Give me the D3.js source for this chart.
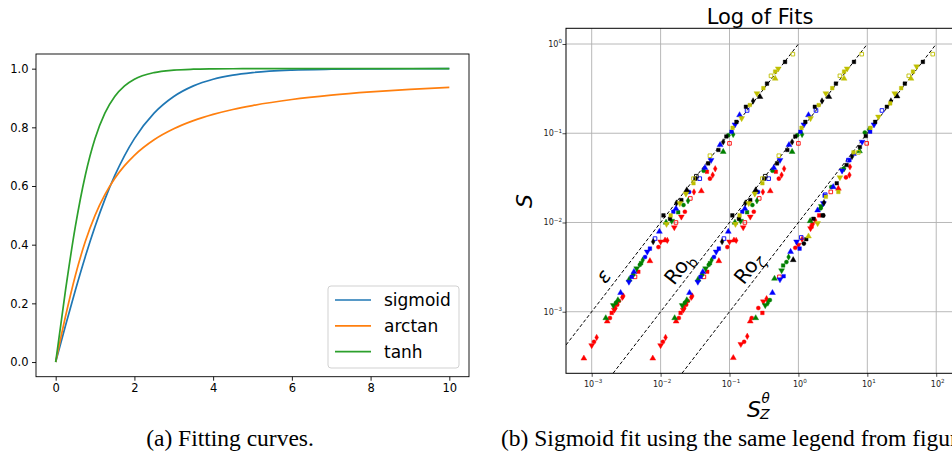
<!DOCTYPE html>
<html><head><meta charset="utf-8">
<script src="https://cdn.jsdelivr.net/npm/d3@7"></script>
<style>body{margin:0;background:#fff}svg{display:block}</style>
</head><body>
<svg id="chart" width="952" height="466"></svg>
<script>
// ---------- Panel (a) data ----------
const curveX   = [0,0.25,0.5,0.75,1,1.25,1.5,1.75,2,2.5,3,3.5,4,4.5,5,6,7,8,9,10];
const sigmoidY = [0,0.1244,0.2449,0.3584,0.4621,0.5546,0.6351,0.7039,0.7616,0.8483,0.9051,0.9414,0.9640,0.9780,0.9866,0.9951,0.9982,0.9993,0.9998,0.9999];
const arctanY  = [0,0.1560,0.2952,0.4097,0.5,0.5705,0.6257,0.6695,0.7048,0.7578,0.7952,0.8228,0.8440,0.8608,0.8743,0.8949,0.9097,0.9208,0.9295,0.9365];
const tanhY    = [0,0.2449,0.4621,0.6351,0.7616,0.8483,0.9051,0.9414,0.9640,0.9866,0.9951,0.9982,0.9993,0.9998,0.9999,1,1,1,1,1];
const curveNames = ["sigmoid","arctan","tanh"];
const xTicksA = [0,2,4,6,8,10];
const yTicksA = [0,0.2,0.4,0.6,0.8,1.0];

// ---------- Panel (b) data: [S_Z^theta, S, run] ----------
const epsRed = [[7.7e-4,3.0e-4,0],[1.0e-3,4.2e-4,1],[1.08e-3,4.6e-4,3],[1.18e-3,5.15e-4,4],
 [1.68e-3,7.8e-4,0],[1.84e-3,8.5e-4,3],[1.95e-3,9.7e-4,2],[2.13e-3,1.05e-3,1],[2.2e-3,1.1e-3,4],[2.35e-3,1.2e-3,3],[2.49e-3,1.32e-3,3],[2.78e-3,1.45e-3,4],[2.88e-3,1.5e-3,4],
 [4.25e-3,2.46e-3,5],[4.75e-3,2.8e-3,2],[7.0e-3,3.7e-3,0],[9.3e-3,5.3e-3,3],[1.0e-2,6.1e-3,1],[1.16e-2,6.3e-3,0],[1.25e-2,6.3e-3,4],
 [1.58e-2,8.8e-3,1],[1.67e-2,1.0e-2,5],[2.0e-2,1.16e-2,1],[2.25e-2,1.32e-2,3],[2.7e-2,1.86e-2,5],[3.05e-2,2.2e-2,4],[3.9e-2,2.25e-2,0],[4.7e-2,3.7e-2,2],[5.2e-2,3.1e-2,3],[5.7e-2,3.4e-2,4],[6.2e-2,4.0e-2,4],[1.0e-1,7.7e-2,5]];
const epsGreen = [[1.6e-3,8.5e-4,0],[2.06e-3,1.18e-3,1],[2.25e-3,1.26e-3,3],[2.4e-3,1.35e-3,0],
 [3.5e-3,2.3e-3,0],[4.0e-3,2.6e-3,3],[4.5e-3,3.05e-3,1],[5.0e-3,3.35e-3,3],[5.2e-3,3.5e-3,2],[5.5e-3,3.79e-3,4],
 [1.2e-2,1.0e-2,0],[1.45e-2,1.04e-2,1],[1.8e-2,1.3e-2,2],[2.15e-2,1.57e-2,3],[2.5e-2,1.75e-2,4],[4.2e-2,3.8e-2,3],[8.1e-2,6.2e-2,0],[9.6e-2,9.5e-2,3],[1.13e-1,9.7e-2,4]];
const epsBlue = [[2.63e-3,1.63e-3,0],[3.47e-3,2.16e-3,1],[3.8e-3,2.46e-3,2],[4.1e-3,2.8e-3,0],[5.95e-3,4.1e-3,3],[6.4e-3,4.7e-3,1],[7.0e-3,5.1e-3,2],[8.3e-3,6.6e-3,5],[9.6e-3,7.9e-3,0],
 [1.53e-2,1.32e-2,2],[1.67e-2,1.43e-2,0],[2.6e-2,2.2e-2,3],[3.7e-2,3.1e-2,5],[4.4e-2,4.1e-2,0],[5.4e-2,5.0e-2,1],[7.3e-2,7.4e-2,0],[1.07e-1,1.04e-1,2],[1.2e-1,1.25e-1,1],[1.4e-1,1.6e-1,0],[1.8e-1,1.8e-1,5]];
const epsBlack = [[7.8e-3,6.1e-3,4],[1.1e-2,1.2e-2,2],[1.37e-2,1.1e-2,2],[1.7e-2,1.65e-2,4],[2.0e-2,1.78e-2,2],[2.4e-2,2.3e-2,0],[3.2e-2,3.1e-2,2],[3.3e-2,3.3e-2,5],[4.9e-2,4.6e-2,2],[6.9e-2,6.5e-2,2],[8.1e-2,8.0e-2,4],[9.0e-2,9.2e-2,2],[1.26e-1,1.34e-1,2],[1.73e-1,1.98e-1,2],[2.2e-1,2.3e-1,4],[2.77e-1,2.56e-1,0],[3.5e-1,3.6e-1,2],[6.4e-1,6.3e-1,2]];
const epsYellow = [[1.22e-2,9.6e-3,1],[1.4e-2,1.2e-2,2],[1.9e-2,1.64e-2,1],[2.33e-2,2.1e-2,1],[3.0e-2,2.75e-2,2],[3.0e-2,3.1e-2,5],[5.2e-2,5.6e-2,5],[1.11e-1,1.15e-1,2],[1.5e-1,1.47e-1,1],[1.97e-1,2.07e-1,2],[2.5e-1,2.8e-1,1],[3.1e-1,3.2e-1,2],[4.0e-1,4.4e-1,5],[4.6e-1,4.1e-1,0],[4.6e-1,4.9e-1,2],[5.1e-1,5.3e-1,1],[8.3e-1,7.7e-1,5]];

const robRed = [[7.7e-3,3.0e-4,0],[1.0e-2,4.2e-4,1],[1.08e-2,4.6e-4,3],[1.18e-2,5.15e-4,4],
 [1.68e-2,7.8e-4,0],[1.84e-2,8.5e-4,3],[1.95e-2,9.7e-4,2],[2.13e-2,1.05e-3,1],[2.2e-2,1.1e-3,4],[2.35e-2,1.2e-3,3],[2.49e-2,1.32e-3,3],[2.78e-2,1.45e-3,4],[2.88e-2,1.5e-3,4],
 [4.25e-2,2.46e-3,5],[4.75e-2,2.8e-3,2],[7.0e-2,3.7e-3,0],[9.3e-2,5.3e-3,3],[1.0e-1,6.1e-3,1],[1.16e-1,6.3e-3,0],[1.25e-1,6.3e-3,4],
 [1.58e-1,8.8e-3,1],[1.67e-1,1.0e-2,5],[2.0e-1,1.16e-2,1],[2.25e-1,1.32e-2,3],[2.7e-1,1.86e-2,5],[3.05e-1,2.2e-2,4],[3.9e-1,2.25e-2,0],[4.7e-1,3.7e-2,2],[5.2e-1,3.1e-2,3],[5.7e-1,3.4e-2,4],[6.2e-1,4.0e-2,4],[1.0,7.7e-2,5]];
const robGreen = [[1.6e-2,8.5e-4,0],[2.06e-2,1.18e-3,1],[2.25e-2,1.26e-3,3],[2.4e-2,1.35e-3,0],
 [3.5e-2,2.3e-3,0],[4.0e-2,2.6e-3,3],[4.5e-2,3.05e-3,1],[5.0e-2,3.35e-3,3],[5.2e-2,3.5e-3,2],[5.5e-2,3.79e-3,4],
 [1.2e-1,1.0e-2,0],[1.45e-1,1.04e-2,1],[1.8e-1,1.3e-2,2],[2.15e-1,1.57e-2,3],[2.5e-1,1.75e-2,4],[4.2e-1,3.8e-2,3],[8.1e-1,6.2e-2,0],[9.6e-1,9.5e-2,3],[1.13,9.7e-2,4]];
const robBlue = [[2.63e-2,1.63e-3,0],[3.47e-2,2.16e-3,1],[3.8e-2,2.46e-3,2],[4.1e-2,2.8e-3,0],[5.95e-2,4.1e-3,3],[6.4e-2,4.7e-3,1],[7.0e-2,5.1e-3,2],[8.3e-2,6.6e-3,5],[9.6e-2,7.9e-3,0],
 [1.53e-1,1.32e-2,2],[1.67e-1,1.43e-2,0],[2.6e-1,2.2e-2,3],[3.7e-1,3.1e-2,5],[4.4e-1,4.1e-2,0],[5.4e-1,5.0e-2,1],[7.3e-1,7.4e-2,0],[1.07,1.04e-1,2],[1.2,1.25e-1,1],[1.4,1.6e-1,0],[1.8,1.8e-1,5]];
const robBlack = [[7.8e-2,6.1e-3,4],[1.1e-1,1.2e-2,2],[1.37e-1,1.1e-2,2],[1.7e-1,1.65e-2,4],[2.0e-1,1.78e-2,2],[2.4e-1,2.3e-2,0],[3.2e-1,3.1e-2,2],[3.3e-1,3.3e-2,5],[4.9e-1,4.6e-2,2],[6.9e-1,6.5e-2,2],[8.1e-1,8.0e-2,4],[9.0e-1,9.2e-2,2],[1.26,1.34e-1,2],[1.73,1.98e-1,2],[2.2,2.3e-1,4],[2.77,2.56e-1,0],[3.5,3.6e-1,2],[6.4,6.3e-1,2]];
const robYellow = [[1.22e-1,9.6e-3,1],[1.4e-1,1.2e-2,2],[1.9e-1,1.64e-2,1],[2.33e-1,2.1e-2,1],[3.0e-1,2.75e-2,2],[3.0e-1,3.1e-2,5],[5.2e-1,5.6e-2,5],[1.11,1.15e-1,2],[1.5,1.47e-1,1],[1.97,2.07e-1,2],[2.5,2.8e-1,1],[3.1,3.2e-1,2],[4.0,4.4e-1,5],[4.6,4.1e-1,0],[4.6,4.9e-1,2],[5.1,5.3e-1,1],[8.3,7.7e-1,5]];

const rozRed = [[0.1135,3.04e-4,0],[0.146,4.33e-4,1],[0.163,4.6e-4,3],[0.181,5.3e-4,4],[0.2,7.8e-4,0],[0.21,8.5e-4,3],[0.262,1.1e-3,3],[0.30,9.7e-4,2],[0.31,1.3e-3,1],[0.345,1.4e-3,4],
 [0.53,2.46e-3,5],[0.9,5.2e-3,3],[1.0,5.6e-3,1],[1.13,6.5e-3,4],[1.5,8.6e-3,1],[1.55,9.0e-3,2],[1.6,9.6e-3,3],[1.75,1.06e-2,4],[2.0,1.2e-2,2],[2.95,2.2e-2,5],[3.8,2.4e-2,0],[4.9,3.2e-2,3],[5.5,3.4e-2,4],[5.6,4.2e-2,4],[9.8,7.7e-2,5]];
const rozGreen = [[0.24,8.5e-4,0],[0.33,1.18e-3,1],[0.36,1.25e-3,4],[0.385,1.35e-3,3],[0.45,2.35e-3,0],[0.57,2.9e-3,1],[0.6,3.3e-3,2],[0.67,3.6e-3,3],[0.72,4.1e-3,4],
 [1.48,1.04e-2,0],[2.1,1.44e-2,3],[2.15,1.52e-2,1],[3.0,2.5e-2,3],[4.5,4.0e-2,3],[4.6,4.0e-2,4],[7.7,6.3e-2,0],[9.2,1.02e-1,3],[10.6,1.1e-1,4]];
const rozBlue = [[0.42,1.63e-3,0],[0.54,2.3e-3,1],[0.61,2.5e-3,2],[0.77,4.7e-3,0],[0.94,6.1e-3,1],[1.04,5.1e-3,2],[1.1,6.8e-3,5],[1.9,1.37e-2,0],[2.3,1.64e-2,1],[2.4,2.0e-2,2],[2.45,2.05e-2,5],
 [3.2,2.5e-2,0],[4.3,3.8e-2,1],[5.3,5.0e-2,5],[5.5,5.0e-2,2],[6.3,5.9e-2,0],[8.4,8.0e-2,1],[11.0,1.04e-1,2],[12.5,1.25e-1,1],[16.3,1.8e-1,5]];
const rozBlack = [[0.84,3.8e-3,0],[1.2,5.8e-3,3],[1.3,6.5e-3,2],[1.65,1.1e-2,2],[2.25,1.2e-2,2],[2.3,1.2e-2,3],[2.35,1.67e-2,4],[3.6,2.75e-2,2],[5.0,4.4e-2,2],[6.0,5.5e-2,4],[7.8,7.0e-2,2],[9.5,9.3e-2,2],[13.0,1.34e-1,2],[19.2,1.98e-1,2],[22,2.3e-1,4],[27,2.6e-1,0],[35,3.6e-1,2],[64,6.3e-1,2]];
const rozYellow = [[1.4,7.0e-3,0],[1.9,9.8e-3,1],[2.5,1.94e-2,2],[3.8,2.2e-2,2],[4.0,3.2e-2,1],[6.3,6.1e-2,2],[7.4,6.1e-2,5],[11.1,1.15e-1,2],[14.5,1.53e-1,1],[21.5,2.16e-1,2],[25,2.8e-1,1],[31,3.2e-1,2],[40,4.4e-1,5],[43,4.1e-1,0],[46,4.9e-1,2],[52,5.6e-1,1],[89,7.7e-1,5]];

// reference lines S = S_Z^theta / k  (endpoints)
const refLines = [[[4.24e-4,4.24e-4],[1,1]], [[2.04e-3,2.04e-4],[10,1]], [[2.04e-2,2.04e-4],[100,1]]];
const xTicksB = [1e-3,1e-2,1e-1,1,10,100];
const yTicksB = [1e-3,1e-2,1e-1,1];

// ---------- drawing ----------
const svg = d3.select("#chart");
const FONT = "DejaVu Sans, sans-serif";

// Panel (a)
const A = {l:36, r:469, t:54, b:376.7};
const xA = d3.scaleLinear().domain([-0.5,10.5]).range([A.l,A.r]);
const yA = d3.scaleLinear().domain([-0.05,1.05]).range([A.b,A.t]);
const colorsA = ["#1f77b4","#ff7f0e","#2ca02c"];
const gA = svg.append("g");
const lineA = d3.line().curve(d3.curveMonotoneX).x((d,i)=>xA(curveX[i])).y(d=>yA(d));
[sigmoidY, arctanY, tanhY].forEach((ys,i)=>{
  gA.append("path").attr("d", lineA(ys)).attr("fill","none")
    .attr("stroke", colorsA[i]).attr("stroke-width",1.7);
});
function styleAxis(g, fs){
  g.select(".domain").remove();
  g.selectAll(".tick line").attr("stroke","#000").attr("stroke-width",0.9);
  g.selectAll(".tick text").attr("fill","#000").style("font-family",FONT).style("font-size",fs+"px");
}
gA.append("g").attr("transform",`translate(0,${A.b})`)
  .call(d3.axisBottom(xA).tickValues(xTicksA).tickSize(4).tickPadding(3.5).tickFormat(d3.format("d")))
  .call(g=>styleAxis(g,11.5));
gA.append("g").attr("transform",`translate(${A.l},0)`)
  .call(d3.axisLeft(yA).tickValues(yTicksA).tickSize(4).tickPadding(3.5).tickFormat(d3.format(".1f")))
  .call(g=>styleAxis(g,11.5));
gA.append("rect").attr("x",A.l).attr("y",A.t).attr("width",A.r-A.l).attr("height",A.b-A.t)
  .attr("fill","none").attr("stroke","#000").attr("stroke-width",0.9);
// legend
const lg = gA.append("g");
lg.append("rect").attr("x",328).attr("y",286).attr("width",131).attr("height",82).attr("rx",3)
  .attr("fill","#fff").attr("fill-opacity",0.8).attr("stroke","#cccccc").attr("stroke-width",0.9);
curveNames.forEach((n,i)=>{
  const y = 300 + i*25.8;
  lg.append("line").attr("x1",335).attr("x2",371).attr("y1",y).attr("y2",y)
    .attr("stroke",colorsA[i]).attr("stroke-width",1.7);
  lg.append("text").attr("x",384).attr("y",y).attr("dy","0.35em").text(n)
    .style("font-family",FONT).style("font-size","17px").attr("fill","#000");
});

// Panel (b)
const B = {l:566, r:954, t:28.3, b:373.3};
const xB = d3.scaleLog().domain([Math.pow(10,-3.373), Math.pow(10,2.258)]).range([B.l,B.r]);
const yB = d3.scaleLog().domain([Math.pow(10,-3.69), Math.pow(10,0.176)]).range([B.b,B.t]);
const gB = svg.append("g");
svg.append("defs").append("clipPath").attr("id","clipB").append("rect")
  .attr("x",B.l).attr("y",B.t).attr("width",B.r-B.l).attr("height",B.b-B.t);

// grid
gB.append("g").selectAll("line").data(xTicksB).join("line")
  .attr("x1",d=>xB(d)).attr("x2",d=>xB(d)).attr("y1",B.t).attr("y2",B.b)
  .attr("stroke","#b0b0b0").attr("stroke-width",0.9);
gB.append("g").selectAll("line").data(yTicksB).join("line")
  .attr("y1",d=>yB(d)).attr("y2",d=>yB(d)).attr("x1",B.l).attr("x2",B.r)
  .attr("stroke","#b0b0b0").attr("stroke-width",0.9);

// reference dashed lines
const lineB = d3.line().x(d=>xB(d[0])).y(d=>yB(d[1]));
const plotB = gB.append("g").attr("clip-path","url(#clipB)");
refLines.forEach(l=>{
  plotB.append("path").attr("d",lineB(l)).attr("fill","none").attr("stroke","#000")
    .attr("stroke-width",1).attr("stroke-dasharray","3.5,2.2");
});

// points
const colorMap = {red:"#ff0000", green:"#008000", blue:"#0000ff", black:"#000000", yellow:"#bfbf00"};
const pointSets = [
  [epsRed,"red"],[epsGreen,"green"],[epsBlue,"blue"],[epsBlack,"black"],[epsYellow,"yellow"],
  [robRed,"red"],[robGreen,"green"],[robBlue,"blue"],[robBlack,"black"],[robYellow,"yellow"],
  [rozRed,"red"],[rozGreen,"green"],[rozBlue,"blue"],[rozBlack,"black"],[rozYellow,"yellow"]
];
const shapes = [
  {t:d3.symbolTriangle, s:15, rot:0, hollow:false},
  {t:d3.symbolTriangle, s:15, rot:180, hollow:false},
  {t:d3.symbolSquare, s:13, rot:0, hollow:false},
  {t:d3.symbolCircle, s:13, rot:0, hollow:false},
  {t:d3.symbolDiamond, s:12, rot:0, hollow:false},
  {t:d3.symbolSquare, s:13, rot:0, hollow:true}
];
pointSets.forEach(([pts,c])=>{
  pts.forEach(p=>{
    const sh = shapes[p[2]];
    const col = colorMap[c];
    plotB.append("path")
      .attr("d", d3.symbol().type(sh.t).size(sh.s)())
      .attr("transform",`translate(${xB(p[0])},${yB(p[1])}) rotate(${sh.rot})`)
      .attr("fill", sh.hollow ? "none" : col)
      .attr("stroke", col).attr("stroke-width", sh.hollow ? 0.9 : 0.4);
  });
});

// axes (b)
function minorTicks(scale){
  const [d0,d1] = scale.domain(); const out=[];
  for(let e=-5;e<=3;e++) for(let k=2;k<=9;k++){ const v=k*Math.pow(10,e); if(v>=d0&&v<=d1) out.push(v); }
  return out;
}
const axBx = gB.append("g").attr("transform",`translate(0,${B.b})`);
axBx.call(d3.axisBottom(xB).tickValues(minorTicks(xB)).tickSize(2).tickFormat(""));
axBx.call(d3.axisBottom(xB).tickValues(xTicksB).tickSize(3.5).tickFormat(""));
axBx.selectAll(".domain").remove();
axBx.selectAll(".tick line").attr("stroke","#000").attr("stroke-width",0.7);
const axBy = gB.append("g").attr("transform",`translate(${B.l},0)`);
axBy.call(d3.axisLeft(yB).tickValues(minorTicks(yB)).tickSize(2).tickFormat(""));
axBy.call(d3.axisLeft(yB).tickValues(yTicksB).tickSize(3.5).tickFormat(""));
axBy.selectAll(".domain").remove();
axBy.selectAll(".tick line").attr("stroke","#000").attr("stroke-width",0.7);

function expLabel(g, v, x, y, anchor){
  const e = Math.round(Math.log10(v));
  const t = g.append("text").attr("x",x).attr("y",y).attr("text-anchor",anchor)
    .style("font-family",FONT).style("font-size","8px").attr("fill","#222");
  t.append("tspan").text("10");
  t.append("tspan").attr("dy",-3.6).style("font-size","5.6px").text(e<0 ? "\u2212"+(-e) : String(e));
}
xTicksB.forEach(v=>expLabel(gB, v, xB(v)+1.5, 386.5, "middle"));
yTicksB.forEach(v=>expLabel(gB, v, 562, yB(v)+3, "end"));

gB.append("rect").attr("x",B.l).attr("y",B.t).attr("width",B.r-B.l).attr("height",B.b-B.t)
  .attr("fill","none").attr("stroke","#000").attr("stroke-width",1);

// line labels
function rotLabel(x,y,build){
  const t = gB.append("text").attr("transform",`translate(${x},${y}) rotate(-52)`)
    .attr("text-anchor","middle").attr("dy","0.35em")
    .style("font-family",FONT).style("font-size","20px").attr("fill","#000");
  build(t);
}
rotLabel(603.3,276,t=>t.append("tspan").style("font-style","italic").text("\u03b5"));
rotLabel(679,268.3,t=>{ t.append("tspan").text("Ro"); t.append("tspan").attr("dy",5).style("font-size","14px").text("b"); });
rotLabel(748.3,268.3,t=>{ t.append("tspan").text("Ro"); t.append("tspan").attr("dy",5).style("font-size","14px").style("font-style","italic").text("\u03b6"); });

// title and axis labels
svg.append("text").attr("x",760).attr("y",24).attr("text-anchor","middle")
  .style("font-family",FONT).style("font-size","21px").attr("fill","#000").text("Log of Fits");
svg.append("text").attr("transform","translate(524,201) rotate(-90)").attr("text-anchor","middle").attr("dy","0.35em")
  .style("font-family",FONT).style("font-size","22px").style("font-style","italic").attr("fill","#000").text("S");
svg.append("text").attr("x",747).attr("y",417)
  .style("font-family",FONT).style("font-size","22px").style("font-style","italic").attr("fill","#000").text("S");
svg.append("text").attr("x",760).attr("y",418.5)
  .style("font-family",FONT).style("font-size","14px").style("font-style","italic").attr("fill","#000").text("Z");
svg.append("text").attr("x",761.5).attr("y",403)
  .style("font-family",FONT).style("font-size","13.5px").style("font-style","italic").attr("fill","#000").text("\u03b8");

// captions (the second one runs past the right edge, as in the reference)
svg.append("text").attr("x",230).attr("y",446).attr("text-anchor","middle")
  .style("font-family","Liberation Serif, serif").style("font-size","23.5px").attr("fill","#000").text("(a) Fitting curves.");
svg.append("text").attr("x",501).attr("y",446)
  .style("font-family","Liberation Serif, serif").style("font-size","23.5px").attr("fill","#000").text("(b) Sigmoid fit using the same legend from figure 3.");
</script>
</body></html>
